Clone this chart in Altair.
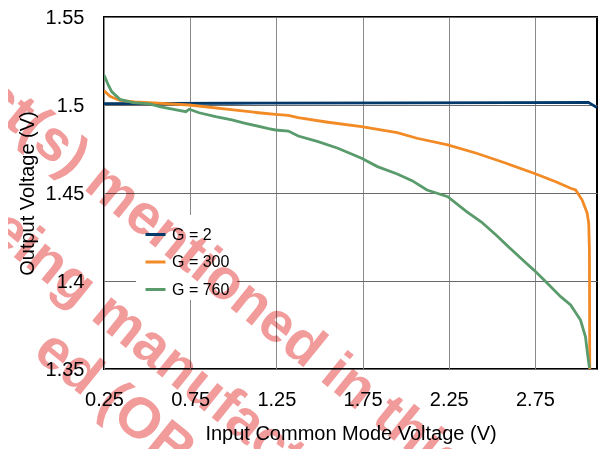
import altair as alt
import pandas as pd

# ---------------- data ----------------
x_ticks = [0.25, 0.75, 1.25, 1.75, 2.25, 2.75]
y_ticks = [1.35, 1.4, 1.45, 1.5, 1.55]
series = ["G = 2", "G = 300", "G = 760"]
colors = ["#00396a", "#f28a26", "#5a9b6c"]

g2_x = [0.25, 1.0, 2.0, 3.06, 3.11]
g2_y = [1.5008, 1.5010, 1.5012, 1.5015, 1.4985]

g300_x = [0.25, 0.2557, 0.2845, 0.342, 0.428, 0.514, 0.744, 0.974, 1.147, 1.244,
          1.319, 1.376, 1.549, 1.744, 1.951, 2.066, 2.244, 2.411, 2.583, 2.744,
          2.871, 2.957, 2.986, 3.024, 3.053, 3.062, 3.066, 3.068]
g300_y = [1.5082, 1.5076, 1.5049, 1.5026, 1.5018, 1.5014, 1.5000, 1.4975, 1.4956, 1.4947,
          1.4941, 1.4928, 1.4902, 1.4877, 1.4843, 1.4811, 1.4773, 1.4726, 1.4669, 1.4612,
          1.4564, 1.4527, 1.4517, 1.4460, 1.4386, 1.4328, 1.4176, 1.3500]

g760_x = [0.25, 0.2747, 0.2943, 0.342, 0.4184, 0.5144, 0.5718, 0.6466, 0.7253, 0.7443,
          0.8017, 0.8977, 0.9914, 1.0701, 1.2046, 1.2448, 1.3195, 1.3770, 1.4920, 1.6069,
          1.7443, 1.8362, 1.9511, 2.0374, 2.1236, 2.2443, 2.3534, 2.4397, 2.5259, 2.6121,
          2.6983, 2.7443, 2.8132, 2.8994, 2.9569, 3.0144, 3.0431, 3.0546, 3.0661]
g760_y = [1.5170, 1.5114, 1.5076, 1.5032, 1.5013, 1.5006, 1.4991, 1.4977, 1.4962, 1.4976,
          1.4956, 1.4934, 1.4915, 1.4896, 1.4866, 1.4858, 1.4852, 1.4824, 1.4792, 1.4754,
          1.4697, 1.4650, 1.4608, 1.4570, 1.4517, 1.4479, 1.4394, 1.4335, 1.4260, 1.4180,
          1.4102, 1.4062, 1.3996, 1.3911, 1.3864, 1.3778, 1.3683, 1.3590, 1.3506]

x_title = "Input Common Mode Voltage (V)"
y_title = "Output Voltage (V)"

# watermark fragments (left part, right part)
wm_a = ["Product(s)", "mentioned in this document"]
wm_b = ["being", "manufactured"]
wm_c = ["ed", "(OBS)"]

# ---------------- build table ----------------
rows = []
for name, xs, ys in [(series[0], g2_x, g2_y), (series[1], g300_x, g300_y), (series[2], g760_x, g760_y)]:
    for i, (xv, yv) in enumerate(zip(xs, ys)):
        rows.append({"series": name, "vcm": xv, "vout": yv, "order": i})
df = pd.DataFrame(rows)

FONT = "Liberation Sans"

x_enc = alt.X("vcm:Q",
              scale=alt.Scale(domain=[0.25, 3.11], nice=False, zero=False),
              axis=alt.Axis(values=x_ticks, format=".2f", grid=True, gridColor="#8a8a8a",
                            gridWidth=1, ticks=False, tickSize=0, domain=False,
                            labelPadding=20, labelFontSize=20, labelFont=FONT,
                            labelColor="black", labelFlush=False, labelOverlap=False,
                            title=x_title, titleFont=FONT, titleFontSize=20,
                            titleFontWeight="normal", titleColor="black", titlePadding=14))
y_enc = alt.Y("vout:Q",
              scale=alt.Scale(domain=[1.35, 1.55], nice=False, zero=False),
              axis=alt.Axis(values=y_ticks, format="~g", grid=True, gridColor="#6a6a6a",
                            gridWidth=1, ticks=False, tickSize=0, domain=False,
                            labelPadding=20, labelFontSize=20, labelFont=FONT,
                            labelColor="black", labelFlush=False, labelOverlap=False,
                            title=y_title, titleFont=FONT, titleFontSize=20,
                            titleFontWeight="normal", titleColor="black", titlePadding=8))

legend_bg = alt.Chart(alt.Data(values=[{}])).mark_rect(color="white").encode(
    x=alt.value(32), x2=alt.value(133), y=alt.value(198), y2=alt.value(283))

lines = alt.Chart(df).mark_line(strokeWidth=2.8, clip=True).encode(
    x=x_enc, y=y_enc,
    color=alt.Color("series:N",
                    scale=alt.Scale(domain=series, range=colors),
                    sort=series,
                    legend=alt.Legend(title=None, orient="none", legendX=32, legendY=198,
                                      symbolType="stroke", symbolStrokeWidth=3,
                                      symbolSize=400, labelFont=FONT, labelFontSize=16,
                                      labelColor="black", labelOffset=5, rowPadding=7.5,
                                      padding=8)),
    order="order:Q")

def wm(text, x, y, align):
    return alt.Chart(alt.Data(values=[{}])).mark_text(
        angle=39, font=FONT, fontSize=57, fontWeight="bold", color="#f29b9b",
        blend="multiply", align=align, baseline="middle").encode(
        x=alt.value(x), y=alt.value(y), text=alt.value(text))

marks = [legend_bg, lines,
         wm(wm_a[0], -23, 148, "right"), wm(wm_a[1], -11, 158, "left"),
         wm(wm_b[0], -16, 278, "right"), wm(wm_b[1], -4, 288, "left"),
         wm(wm_c[0], -10, 367, "right"), wm(wm_c[1], 2, 377, "left")]

chart = alt.layer(*marks).properties(
    width=493, height=352,
    padding={"left": 96, "top": 9, "right": 1, "bottom": 80},
    autosize=alt.AutoSizeParams(type="none"),
).configure_view(stroke="black", strokeWidth=2)

chart.save("out.html", embed_options={"renderer": "svg", "actions": False})
